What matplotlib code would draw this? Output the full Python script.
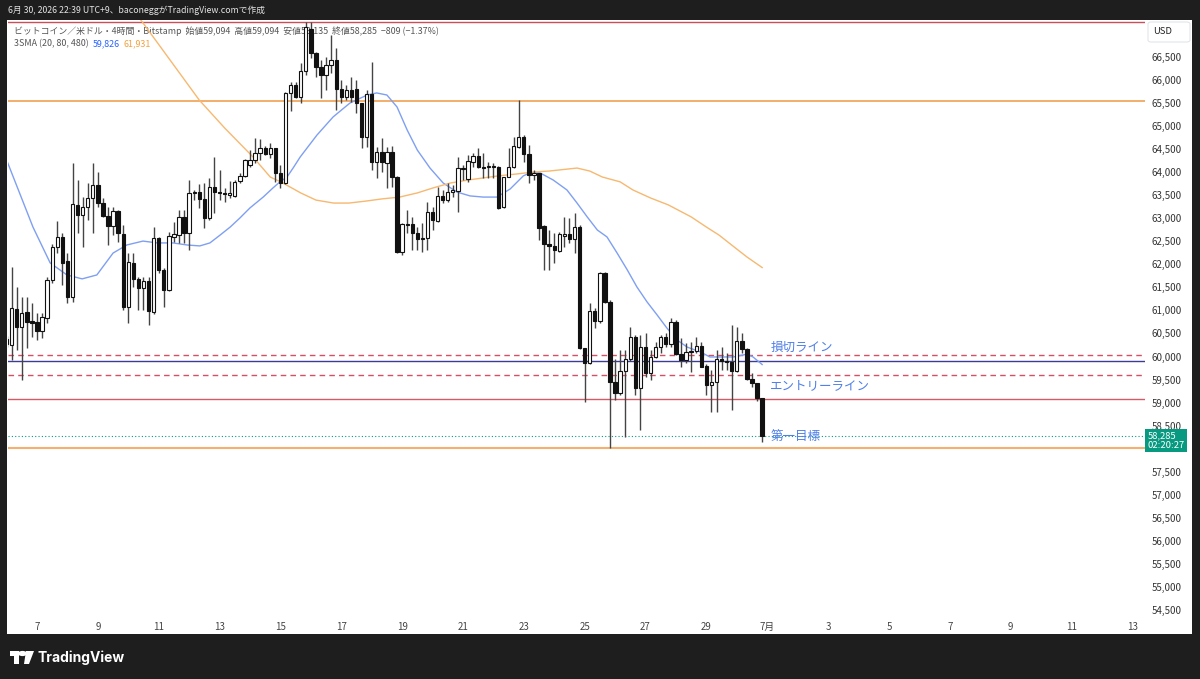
import numpy as np
import pandas as pd
import matplotlib
matplotlib.use("Agg")
import matplotlib.pyplot as plt
from matplotlib.patches import Rectangle, Circle, Polygon, FancyBboxPatch
from matplotlib.transforms import blended_transform_factory, offset_copy

plt.rcParams['font.family'] = ['Noto Sans CJK JP', 'DejaVu Sans']

# ── 4h candles, BTC/USD Bitstamp (2026-06-06 00:00 .. 06-30 20:00) ──────────
open_ = [60380, 60250, 61025, 60650, 60960, 60770, 60745, 60560, 60845, 61660,
         62370, 62600, 62065, 61300, 63290, 63070, 63240, 63450, 63730, 63340,
         63050, 62835, 63165, 62660, 61070, 62035, 61675, 61480, 61640, 60975,
         62580, 61880, 61445, 62590, 62640, 63035, 62690, 63540, 63565, 63420,
         63000, 63685, 63580, 63540, 63505, 63490, 63800, 63920, 64150, 64265,
         64410, 64520, 64395, 64520, 63990, 63760, 65710, 65895, 65625, 66205,
         67100, 66580, 66290, 66110, 66325, 66435, 65800, 65625, 65785, 65805,
         65495, 64755, 65695, 64230, 64445, 64205, 64430, 63905, 62275, 62875,
         62875, 62675, 62550, 62565, 63135, 62950, 63490, 63395, 63580, 63600,
         64065, 63855, 64230, 64350, 64120, 64105, 64135, 64120, 63240, 63905,
         64120, 64555, 64770, 64395, 63940, 63975, 62840, 62440, 62405, 62300,
         62625, 62650, 62545, 62820, 60180, 59855, 60990, 60770, 61805, 61190,
         59455, 59200, 59695, 59940, 60415, 59310, 60215, 59635, 60000, 60215,
         60430, 60265, 60745, 60055, 59925, 60105, 60120, 60235, 59795, 59385,
         59455, 59940, 59910, 59870, 59695, 60345, 60155, 59505, 59420, 59094]
high = [60450, 61950, 61515, 61300, 61285, 61155, 60940, 60940, 61735, 62445,
        62940, 62675, 62240, 64195, 63830, 63470, 63760, 64195, 64010, 63435,
        63255, 63255, 63180, 62855, 62240, 62240, 61735, 61735, 61735, 62805,
        62600, 61915, 62710, 62925, 63180, 63180, 63830, 63615, 63745, 63760,
        63865, 64340, 64050, 63650, 63800, 63830, 63975, 64280, 64480, 64735,
        64715, 64570, 64625, 64535, 64155, 65750, 65965, 65965, 66365, 67260,
        67250, 66615, 66435, 66505, 66980, 66690, 66000, 65895, 66075, 66000,
        65510, 65785, 66400, 64555, 64735, 64555, 64570, 63910, 62905, 63180,
        63035, 62820, 62890, 63360, 63250, 63685, 63615, 63760, 63725, 64340,
        64155, 64375, 64410, 64520, 64410, 64230, 64195, 64135, 63905, 64520,
        64770, 65565, 64810, 64590, 64050, 63990, 62855, 62745, 62675, 62710,
        63035, 63000, 63110, 62855, 60180, 61155, 61045, 61840, 61840, 61225,
        59940, 60140, 60140, 60650, 60470, 60470, 60505, 60140, 60325, 60470,
        60505, 60830, 60795, 60395, 60285, 60325, 60430, 60325, 59840, 59710,
        60140, 60215, 60070, 60685, 60650, 60505, 60190, 59635, 59435, 59094]
low = [60200, 59925, 60140, 59490, 60180, 60430, 60360, 60395, 60720, 61590,
       62240, 61555, 61155, 61190, 62675, 62385, 62965, 62675, 63255, 63020,
       62420, 62640, 62495, 61010, 60720, 61515, 61010, 61010, 60685, 60925,
       61805, 61070, 61430, 62495, 62470, 62470, 62310, 63400, 63215, 62780,
       62965, 63110, 63400, 63360, 63435, 63470, 63760, 63905, 64120, 64195,
       64265, 64375, 64300, 63795, 63650, 63745, 65335, 65600, 65510, 66110,
       66480, 66075, 65605, 65785, 66145, 65350, 65495, 65565, 65530, 65280,
       64520, 64555, 64050, 63865, 64010, 63650, 63685, 62240, 62205, 62675,
       62310, 62310, 62275, 62310, 62745, 62925, 63340, 63360, 63470, 63145,
       63830, 63795, 64120, 64085, 63865, 63865, 63865, 63195, 63215, 63900,
       64085, 64520, 64230, 63760, 63830, 62530, 61880, 61880, 62025, 62275,
       62385, 62455, 62240, 60155, 59020, 59840, 60610, 60720, 61170, 58005,
       59055, 59165, 58245, 59910, 59165, 58405, 59565, 59490, 59960, 60070,
       60215, 60215, 60025, 59780, 59855, 59670, 60070, 59765, 59165, 58805,
       58805, 59710, 59710, 58840, 59670, 60070, 59490, 59345, 59045, 58135]
close = [60270, 61045, 60650, 60940, 60755, 60735, 60560, 60865, 61660, 62370,
         62585, 62035, 61300, 63310, 63070, 63240, 63450, 63730, 63340, 63050,
         62835, 63150, 62675, 61070, 62050, 61675, 61495, 61640, 60990, 62580,
         61880, 61445, 62615, 62650, 63035, 62675, 63540, 63565, 63420, 63000,
         63685, 63580, 63540, 63520, 63540, 63790, 63920, 64265, 64270, 64425,
         64520, 64395, 64520, 63990, 63760, 65710, 65895, 65625, 66205, 67150,
         66580, 66290, 66110, 66325, 66435, 65800, 65625, 65785, 65640, 65495,
         64755, 65695, 64230, 64430, 64230, 64430, 63905, 62275, 62875, 62855,
         62675, 62550, 62565, 63135, 62965, 63490, 63395, 63580, 63615, 64085,
         64085, 64250, 64350, 64120, 64100, 64135, 64110, 63215, 63905, 64120,
         64575, 64755, 64395, 63940, 63990, 62795, 62440, 62405, 62310, 62650,
         62650, 62545, 62820, 60180, 59855, 60990, 60770, 61805, 61190, 59455,
         59200, 59695, 59940, 60415, 59310, 60215, 59650, 60000, 60215, 60430,
         60265, 60745, 60055, 59925, 60105, 60120, 60235, 59780, 59385, 59455,
         59940, 59910, 59870, 59695, 60345, 60155, 59505, 59420, 59094, 58285]

# SMA lines (bar index, price)
sma20_bar = [0, 5.2, 8.6, 11.9, 14.9, 17.8, 21, 23.7, 26.9, 29.7, 32.8, 35.6,
             38.1, 40.1, 42.1, 44.1, 46, 48, 50.6, 52.5, 53.9, 55.3, 56.5, 57.9,
             61.2, 64.4, 67.7, 71.1, 73, 75, 77, 79, 81, 83.5, 86.1, 88.8, 91.4,
             94, 96.7, 99.3, 101.9, 103.2, 105.2, 107.8, 110.5, 112.5, 114.5,
             116.5, 118.4, 120.4, 122.4, 124.3, 126.3, 128.3, 130.2, 132.2,
             134.2, 136.8, 138.7, 140.7, 143.3, 146, 147.2, 149]
sma20_val = [64265, 62810, 62030, 61770, 61685, 61770, 62245, 62420, 62505, 62465,
             62465, 62420, 62400, 62465, 62635, 62810, 63005, 63225, 63460, 63655,
             63790, 63895, 64090, 64330, 64805, 65200, 65500, 65675, 65720, 65675,
             65415, 64915, 64480, 64090, 63765, 63570, 63485, 63460, 63460, 63635,
             63920, 63985, 63985, 63830, 63615, 63330, 63030, 62745, 62595, 62245,
             61880, 61510, 61185, 60900, 60620, 60360, 60205, 60100, 59990, 59990,
             59990, 60050, 59990, 59826]
sma80_bar = [26.5, 38, 43, 48.6, 52, 54.5, 58, 61, 64.5, 67.5, 71, 74, 77.5, 81,
             84, 87.5, 91, 94, 97, 100.5, 104, 107, 112.5, 115, 117.5, 121, 123.5,
             127, 130.5, 135, 138, 140.5, 143.5, 146, 149]
sma80_val = [67300, 65565, 64960, 64330, 63895, 63765, 63550, 63395, 63330, 63330,
             63375, 63420, 63460, 63550, 63655, 63765, 63830, 63875, 63920, 63960,
             64005, 64025, 64090, 64025, 63895, 63790, 63615, 63440, 63290, 63030,
             62810, 62635, 62375, 62160, 61931]

# drawn horizontal levels
level_top = 67250
level_resist = 65550
level_stop = 60033
level_mid = 59903
level_entry = 59600
level_red = 59080
level_support = 58005
last_price = 58285

price_ticks = [54500, 55000, 55500, 56000, 56500, 57000, 57500, 58500, 59000,
               59500, 60000, 60500, 61000, 61500, 62000, 62500, 63000, 63500,
               64000, 64500, 65000, 65500, 66000, 66500]

t0 = pd.Timestamp('2026-06-06 00:00')
bar = pd.Timedelta(hours=4)
date_ticks = pd.date_range('2026-06-07', '2026-07-13', freq='2D')

# ── figure ────────────────────────────────────────────────────────────────
W, H = 1200, 679
fig = plt.figure(figsize=(12, 6.79), dpi=100, facecolor='#1e1e1e')


def fx(px):
    return px / W


def fy(py):
    return 1 - py / H


fig.patches.append(Rectangle((fx(7), fy(634)), fx(1192) - fx(7), fy(20) - fy(634),
                             transform=fig.transFigure, facecolor='white',
                             edgecolor='none', zorder=-5))

ax = fig.add_axes([fx(8), fy(615), fx(1145) - fx(8), fy(20) - fy(615)])
ax.set_facecolor('white')
ax.set_xlim(0.28, 224.5)
ax.set_ylim(54390, 67303)
for s in ax.spines.values():
    s.set_visible(False)

xs = np.arange(len(close))
o = np.array(open_)
c = np.array(close)
up = c >= o
body_lo = np.minimum(o, c)
body_h = np.maximum(np.abs(c - o), 15)

# SMA lines
ax.plot(sma20_bar, sma20_val, color='#7f9ff2', lw=1, zorder=2)
ax.plot(sma80_bar, sma80_val, color='#f7b870', lw=1, zorder=2)

# levels
ax.axhline(level_top, color='#c8505a', lw=1, zorder=1)
ax.axhline(level_resist, color='#f0a050', lw=1.2, zorder=1)
ax.axhline(level_stop, color='#d65064', lw=1, ls=(0, (4, 3)), zorder=1)
ax.axhline(level_mid, color='#3c3c96', lw=1, zorder=1)
ax.axhline(level_entry, color='#d65064', lw=1, ls=(0, (4, 3)), zorder=1)
ax.axhline(level_red, color='#d45a66', lw=1, zorder=1)
ax.axhline(level_support, color='#f5b070', lw=1.5, zorder=1)
ax.axhline(last_price, color='#089981', lw=0.8, ls=(0, (1, 2)), zorder=1)

# candles
ax.vlines(xs, low, high, color='#444444', lw=1, zorder=3)
ax.bar(xs, body_h, bottom=body_lo, width=0.66,
       color=np.where(up, 'white', '#111111'), edgecolor='#111111',
       linewidth=0.8, zorder=4)

# line labels
lab_col = '#4f7fe8'
ax.text(150.6, 60207, '損切ライン', color=lab_col, fontsize=9, va='center', zorder=5)
ax.text(150.6, 59361, 'エントリーライン', color=lab_col, fontsize=9, va='center', zorder=5)
ax.text(150.6, 58254, '第一目標', color=lab_col, fontsize=9, va='center', zorder=5)

# header legend
hdr = 6.4
ax.text(0.0053, 0.9815,
        'ビットコイン／米ドル・4時間・Bitstamp  始値59,094  高値59,094  安値58,135  '
        '終値58,285  −809 (−1.37%)',
        transform=ax.transAxes, fontsize=hdr, color='#555555', va='center', zorder=1)
ax.text(0.0053, 0.9597, '3SMA (20, 80, 480)', transform=ax.transAxes,
        fontsize=hdr, color='#555555', va='center', zorder=1)
ax.text((93 - 8) / 1137, 0.9597, '59,826', transform=ax.transAxes,
        fontsize=hdr, color='#2962ff', va='center', zorder=1)
ax.text((124 - 8) / 1137, 0.9597, '61,931', transform=ax.transAxes,
        fontsize=hdr, color='#f59f3a', va='center', zorder=1)

# price axis
ax.yaxis.tick_right()
ax.set_yticks(price_ticks)
ax.set_yticklabels([f'{v:,}' for v in price_ticks])
ax.tick_params(axis='y', length=0, pad=5, labelsize=7, labelcolor='#333333')

# time axis
tick_pos = [(d - t0) / bar for d in date_ticks]
tick_lab = ['7月' if d.day == 1 else str(d.day) for d in date_ticks]
ax.set_xticks(tick_pos)
ax.set_xticklabels(tick_lab)
ax.tick_params(axis='x', length=0, pad=5, labelsize=7, labelcolor='#444444')

# last price tag (sits just under the price level, like TradingView)
trans = offset_copy(blended_transform_factory(ax.transAxes, ax.transData),
                    fig=fig, y=-5, units='dots')
ax.text(1.0025, last_price, f'{last_price:,}\n02:20:27', transform=trans,
        ha='left', va='center', color='white', fontsize=6.8, linespacing=1.0,
        bbox=dict(boxstyle='square,pad=0.25', fc='#089981', ec='none'),
        zorder=6, clip_on=False)

# USD box
fig.patches.append(FancyBboxPatch((fx(1148), fy(42)), fx(42), 20 / H,
                                  boxstyle='round,pad=0,rounding_size=0.003',
                                  transform=fig.transFigure, fc='white',
                                  ec='#e3e5ea', lw=0.8))
fig.text(fx(1153), fy(32), 'USD', fontsize=6.8, color='#222222', va='center')

# top caption
fig.text(fx(8), fy(10), '6月 30, 2026 22:39 UTC+9、baconeggがTradingView.comで作成',
         color='#e4e4e4', fontsize=6.3, va='center')

# TradingView logo
fig.patches.append(Rectangle((fx(10), fy(656)), fx(9), 5 / H, transform=fig.transFigure,
                             fc='white', ec='none'))
fig.patches.append(Rectangle((fx(14), fy(664)), fx(5), 13 / H, transform=fig.transFigure,
                             fc='white', ec='none'))
fig.patches.append(Circle((fx(22.5), fy(653.5)), 2.6 / H, transform=fig.transFigure,
                          fc='white', ec='none'))
fig.patches.append(Polygon([(fx(26), fy(651)), (fx(34), fy(651)), (fx(29), fy(664)),
                            (fx(24), fy(664))], closed=True,
                           transform=fig.transFigure, fc='white', ec='none'))
fig.text(fx(37), fy(657.5), 'TradingView', color='white', fontsize=10,
         fontweight='bold', family=['Inter', 'DejaVu Sans'], va='center')

fig.savefig('out.png', dpi=100, facecolor=fig.get_facecolor())
